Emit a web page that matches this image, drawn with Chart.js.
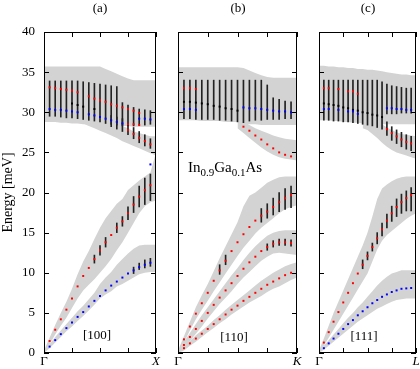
<!DOCTYPE html>
<html>
<head>
<meta charset="utf-8">
<script src="https://cdn.jsdelivr.net/npm/chart.js@4.4.1/dist/chart.umd.min.js"></script>
<style>
body { margin: 0; width: 420px; height: 369px; background: #fff; position: relative; overflow: hidden; font-family: "Liberation Serif", serif; color: #000; }
canvas { position: absolute; top: 0; }
.lbl { position: absolute; font-size: 13px; line-height: 15px; text-align: center; white-space: nowrap; }
.lbl sub { font-size: 11px; line-height: 0; }
</style>
</head>
<body>
<canvas id="panelA" width="164" height="369" style="left:0px"></canvas>
<canvas id="panelB" width="135" height="369" style="left:170px"></canvas>
<canvas id="panelC" width="109" height="369" style="left:311px"></canvas>
<div class="lbl" style="left:80px;top:0px;width:40px">(a)</div>
<div class="lbl" style="left:218px;top:0px;width:40px">(b)</div>
<div class="lbl" style="left:348px;top:0px;width:40px">(c)</div>
<div class="lbl" style="left:77px;top:327px;width:40px">[100]</div>
<div class="lbl" style="left:214px;top:329px;width:40px">[110]</div>
<div class="lbl" style="left:344px;top:328px;width:40px">[111]</div>
<div class="lbl" style="left:188px;top:160px;font-size:15px;text-align:left">In<sub>0.9</sub>Ga<sub>0.1</sub>As</div>
<script>
var kGrid = [0, 0.05, 0.1, 0.15, 0.2, 0.25, 0.3, 0.35, 0.4, 0.45, 0.5, 0.55, 0.6, 0.65, 0.7, 0.75, 0.8, 0.85, 0.9, 0.95, 1];
var yTicks = [0, 5, 10, 15, 20, 25, 30, 35, 40];

// panel (a) [100]
var aOptHi = [35.7, 35.7, 35.7, 35.7, 35.7, 35.7, 35.7, 35.7, 35.7, 35.7, 35.7, 35.4, 35.1, 34.8, 34.5, 34.2, 34.0, 34.0, 34.0, 34.0, 34.0];
var aOptLo = [28.8, 28.8, 28.8, 28.7, 28.7, 28.6, 28.6, 28.5, 28.5, 28.4, 28.4, 28.4, 28.3, 28.3, 28.3, 28.3, 28.2, 28.2, 28.2, 28.2, 28.2];
var aDescHi = [null, null, null, null, null, null, null, 29.5, 29.4, 29.3, 29.1, 28.9, 28.7, 28.5, 28.3, 28.0, 27.6, 27.4, 27.2, 27.0, 27.0];
var aDescLo = [null, null, null, null, null, null, null, 28.6, 28.3, 28.0, 27.7, 27.4, 27.1, 26.8, 26.4, 26.1, 25.8, 25.5, 25.2, 24.9, 24.6];
var aLAHi = [0.3, 1.9, 3.5, 5.0, 6.4, 8.0, 9.8, 11.4, 12.7, 14.2, 15.6, 16.8, 17.7, 18.6, 19.2, 20.3, 20.9, 21.5, 22.0, 22.5, 25.0];
var aLALo = [0, 1.1, 2.3, 3.4, 4.4, 5.6, 6.8, 7.8, 8.5, 9.2, 10.0, 10.8, 11.7, 12.8, 13.8, 15.0, 16.2, 17.4, 18.3, 18.8, 19.0];
var aTAHi = [0.2, 1.1, 2.0, 2.8, 3.6, 4.4, 5.2, 5.9, 6.7, 7.5, 8.6, 9.4, 10.1, 11.0, 11.7, 12.4, 13.0, 13.4, 13.5, 13.5, 13.5];
var aTALo = [0, 0.6, 1.3, 2.0, 2.7, 3.3, 4.0, 4.6, 5.3, 6.0, 6.8, 7.3, 7.7, 8.3, 8.6, 9.0, 9.4, 9.8, 10.0, 10.1, 10.1];
var aBarOptHi = [33.9, 33.9, 33.9, 33.9, 33.9, 33.9, 33.9, 33.8, 33.7, 33.6, 33.5, 33.4, 33.3, 33.2, 31.2, 30.9, 30.6, 30.4, 30.3, 30.2, 30.2];
var aBarOptLo = [29.5, 29.5, 29.5, 29.4, 29.3, 29.3, 29.2, 29.1, 29.0, 28.9, 28.8, 28.6, 28.5, 28.4, 28.3, 28.3, 28.3, 28.4, 28.4, 28.5, 28.5];
var aBarDescHi = [null, null, null, null, null, null, null, null, null, null, null, null, 29.6, 29.4, 29.2, 28.6, 28.1, 27.6, 27.2, 26.7, 26.3];
var aBarDescLo = [null, null, null, null, null, null, null, null, null, null, null, null, 28.2, 27.9, 27.6, 27.2, 26.7, 26.2, 25.8, 25.5, 25.2];
var aBarLAHi = [null, null, null, null, null, null, null, null, null, 12.2, 13.4, 14.4, null, 16.2, 17.0, 18.2, 19.5, 20.8, 21.8, 22.3, 25.0];
var aBarLALo = [null, null, null, null, null, null, null, null, null, 11.2, 12.2, 13.2, null, 15.0, 15.8, 16.6, 17.5, 18.2, 18.5, 19.0, 20.3];
var aBarTAHi = [null, null, null, null, null, null, null, null, null, null, null, null, null, null, null, null, 10.7, 11.2, 11.6, 11.8, 11.9];
var aBarTALo = [null, null, null, null, null, null, null, null, null, null, null, null, null, null, null, null, 9.9, 10.4, 10.6, 10.8, 10.8];
var aTA = [0, 0.8, 1.6, 2.35, 3.1, 3.8, 4.5, 5.1, 5.8, 6.5, 7.1, 7.8, 8.4, 8.9, 9.4, 9.9, 10.3, 10.7, 11.0, 11.25, 11.35];
var aLA = [0, 1.5, 2.9, 4.2, 5.4, 6.8, 8.3, 9.6, 10.6, 11.7, 12.8, 13.8, 14.7, 15.6, 16.4, 17.4, 18.5, 19.5, 20.3, 20.9, 21.2];
var aLO = [33.1, 33.1, 33.0, 32.9, 32.8, 32.7, 32.5, null, 32.0, 31.7, 31.5, 31.3, 31.0, 30.8, 30.6, 30.4, 30.2, 29.9, null, null, null];
var aTO = [30.4, 30.4, 30.3, 30.3, 30.2, 30.1, 30.0, null, 29.75, 29.6, 29.4, 29.2, 29.0, 28.8, 28.6, null, null, null, null, null, null];
var aTOdown = [null, null, null, null, null, null, null, null, null, null, null, null, null, null, null, 27.8, 27.3, 26.8, 26.4, 26.0, 25.7];
var aTOflat = [null, null, null, null, null, null, null, null, null, null, null, null, null, null, null, null, null, 29.2, 29.2, 29.1, 29.1];
var aLOlow = [null, null, null, null, null, null, null, null, null, null, null, null, null, null, null, 28.5, 28.5, 28.4, null, null, 28.4];
var aMid = [null, null, null, null, null, 31.1, 30.9, 30.7, null, 30.4, null, null, null, null, null, null, null, null, null, null, null];
var aXpt = [null, null, null, null, null, null, null, null, null, null, null, null, null, null, null, null, null, null, null, 23.5, 23.5];

// panel (b) [110]
var bOptHi = [35.6, 35.6, 35.6, 35.6, 35.6, 35.6, 35.6, 35.6, 35.6, 35.6, 35.6, 35.5, 35.2, 34.9, 34.6, 34.4, 34.3, 34.3, 34.3, 34.3, 34.3];
var bOptLo = [29.0, 29.0, 29.0, 29.0, 28.9, 28.9, 28.9, 28.9, 28.8, 28.8, 28.8, 28.6, 28.5, 28.5, 28.4, 28.4, 28.4, 28.4, 28.4, 28.4, 28.4];
var bDescHi = [null, null, null, null, null, null, null, null, null, null, 29.0, 28.9, 28.4, 28.0, 27.7, 27.4, 27.1, 26.9, 26.7, 26.6, 26.5];
var bDescLo = [null, null, null, null, null, null, null, null, null, null, 28.0, 27.4, 26.8, 26.2, 25.6, 25.1, 24.7, 24.4, 24.2, 24.1, 24.0];
var bLAHi = [0.3, 2.1, 3.9, 5.7, 7.2, 8.6, 10.2, 11.8, 13.3, 14.8, 16.3, 18.3, 19.6, 20.0, 20.6, 21.2, 21.6, 21.9, 22.0, 22.0, 22.0];
var bLALo = [0, 1.3, 2.8, 4.2, 5.4, 6.5, 7.7, 8.8, 9.9, 11.0, 12.1, 13.1, 14.0, 14.9, 15.6, 16.2, 16.8, 17.4, 17.9, 18.2, 18.4];
var bTA2Hi = [0.2, 1.4, 2.5, 3.6, 4.7, 5.7, 6.7, 7.7, 8.7, 9.7, 10.6, 11.6, 12.5, 13.3, 14.0, 14.6, 15.0, 15.2, 15.3, 15.3, 15.3];
var bTA2Lo = [0, 0.6, 1.5, 2.4, 3.3, 4.3, 5.2, 6.1, 6.9, 7.7, 8.6, 9.4, 10.1, 10.8, 11.5, 12.0, 12.4, 12.5, 12.4, 12.3, 12.2];
var bTA1Hi = [0.15, 0.9, 1.5, 2.2, 2.8, 3.4, 4.1, 4.7, 5.4, 6.0, 6.6, 7.2, 7.8, 8.4, 9.0, 9.5, 10.0, 10.4, 10.8, 11.1, 11.3];
var bTA1Lo = [0, 0.3, 0.9, 1.4, 2.0, 2.6, 3.1, 3.7, 4.2, 4.8, 5.3, 5.8, 6.3, 6.7, 7.1, 7.6, 8.0, 8.3, 8.7, 9.1, 9.4];
var bBarOptHi = [34.0, 34.0, 34.0, 34.0, 34.0, 34.0, 34.0, 34.0, 34.0, 34.0, 34.0, 34.0, 34.0, 34.0, 34.0, 33.4, 31.8, 31.6, 31.4, 31.3, 31.2];
var bBarOptLo = [29.2, 29.2, 29.2, 29.1, 29.1, 29.1, 29.1, 29.0, 29.0, 28.9, 28.8, 28.7, 28.9, 29.0, 29.0, 29.1, 29.1, 29.1, 29.2, 29.2, 29.2];
var bBarLAHi = [null, null, null, null, null, null, null, 11.0, 12.2, null, null, null, null, null, 18.0, 18.6, 19.3, 20.0, 20.5, 20.8, 21.0];
var bBarLALo = [null, null, null, null, null, null, null, 9.8, 11.0, null, null, null, null, null, 16.3, 16.8, 17.2, 17.6, 17.9, 18.1, 18.2];
var bBarTA2Hi = [null, null, null, null, null, null, null, null, null, null, null, null, null, null, null, 13.6, 14.0, 14.2, 14.2, 14.1, 14.0];
var bBarTA2Lo = [null, null, null, null, null, null, null, null, null, null, null, null, null, null, null, 12.8, 13.2, 13.4, 13.4, 13.3, 13.2];
var bLA = [0, 1.7, 3.3, 4.9, 6.2, 7.5, 9.0, 10.3, 11.5, 12.7, 13.8, 14.8, 15.7, 16.5, 17.1, 17.6, 18.2, 18.8, 19.3, 19.7, 20.0];
var bTA2 = [0, 1.0, 2.0, 3.0, 4.0, 5.0, 6.0, 6.9, 7.8, 8.7, 9.6, 10.5, 11.3, 12.0, 12.7, 13.2, 13.6, 13.8, 13.8, 13.7, 13.6];
var bTA1 = [0, 0.6, 1.2, 1.8, 2.4, 3.0, 3.6, 4.2, 4.8, 5.4, 5.9, 6.5, 7.0, 7.5, 8.0, 8.5, 8.9, 9.3, 9.7, 10.0, 10.3];
var bLO = [33.0, 33.0, 33.0, 32.9, null, null, null, null, null, null, null, null, null, null, null, null, null, null, null, null, null];
var bTO = [30.4, 30.4, 30.4, 30.3, null, null, null, null, null, null, null, null, null, null, null, null, null, null, null, null, null];
var bMid = [null, 31.3, 31.3, 31.2, 31.1, 31.0, 30.8, 30.7, 30.5, 30.4, 30.2, null, null, null, null, null, null, null, null, null, null];
var bTOflat = [null, null, null, null, null, null, null, null, null, null, null, 30.6, 30.5, 30.5, 30.4, 30.3, 30.2, 30.1, 30.1, 30.0, 29.9];
var bTOdown = [null, null, null, null, null, null, null, null, null, null, null, 28.2, 27.7, 27.1, 26.6, 26.0, 25.5, 25.0, 24.7, 24.5, 24.4];

// panel (c) [111]
var cOptHi = [35.8, 35.8, 35.7, 35.7, 35.6, 35.6, 35.5, 35.5, 35.4, 35.4, 35.3, 35.3, 35.2, 35.1, 35.0, 34.9, 34.8, 34.7, 34.7, 34.6, 34.6];
var cOptLo = [29.0, 29.0, 29.0, 28.9, 28.9, 28.8, 28.8, 28.7, 28.7, 28.6, 28.5, 28.5, 28.5, 28.5, 28.5, 28.5, 28.5, 28.5, 28.5, 28.5, 28.5];
var cDescHi = [null, null, null, null, null, null, null, null, null, 28.8, 28.7, 28.6, 28.6, 28.5, 28.1, 27.8, 27.5, 27.3, 27.2, 27.1, 27.0];
var cDescLo = [null, null, null, null, null, null, null, null, null, 28.0, 27.8, 27.3, 26.8, 26.2, 25.7, 25.3, 25.0, 24.8, 24.6, 24.4, 24.2];
var cLAHi = [0.3, 1.8, 3.4, 5.0, 6.4, 7.8, 9.2, 10.6, 12.0, 13.4, 15.0, 17.0, 19.2, 20.5, 21.0, 21.4, 21.7, 21.9, 22.0, 22.0, 22.0];
var cLALo = [0, 0.9, 1.9, 2.9, 3.9, 4.9, 5.9, 6.9, 7.9, 8.9, 9.9, 11.4, 12.9, 14.0, 14.7, 15.2, 15.7, 16.2, 16.7, 17.1, 17.4];
var cTAHi = [0.2, 0.9, 1.6, 2.3, 3.0, 3.7, 4.4, 5.0, 5.7, 6.3, 7.0, 7.7, 8.4, 9.0, 9.5, 9.9, 10.1, 10.3, 10.3, 10.3, 10.3];
var cTALo = [0, 0.4, 0.9, 1.4, 1.9, 2.4, 2.9, 3.4, 3.9, 4.3, 4.7, 5.1, 5.5, 5.8, 6.1, 6.4, 6.6, 6.7, 6.8, 6.8, 6.8];
var cBarOptHi = [34.0, 34.0, 34.0, 34.0, 34.0, 34.0, 34.0, 34.0, 34.0, 34.0, 34.0, 34.0, 34.0, 33.8, 33.5, 33.3, 33.2, 33.1, 33.0, 33.0, 33.0];
var cBarOptLo = [29.0, 29.0, 29.0, 28.9, 28.9, 28.8, 28.8, 28.7, 28.6, 28.5, 28.4, 28.3, 28.1, 27.9, 29.8, 29.8, 29.8, 29.9, 29.9, 29.9, 29.9];
var cBarDescHi = [null, null, null, null, null, null, null, null, null, null, null, null, null, null, 28.8, 28.2, 27.8, 27.5, 27.2, 27.0, 26.8];
var cBarDescLo = [null, null, null, null, null, null, null, null, null, null, null, null, null, null, 27.1, 26.5, 26.1, 25.7, 25.4, 25.2, 25.0];
var cBarLAHi = [null, null, null, null, null, null, null, null, null, 11.6, 12.6, 13.7, 15.0, 16.2, 17.3, 18.3, 19.2, 19.8, 20.2, 20.6, 20.8];
var cBarLALo = [null, null, null, null, null, null, null, null, null, 10.5, 11.6, 12.7, 13.6, 14.6, 15.6, 16.4, 17.0, 17.4, 17.7, 17.7, 17.6];
var cLA = [0, 1.3, 2.6, 3.9, 5.1, 6.3, 7.5, 8.7, 9.9, 11.0, 12.1, 13.2, 14.3, 15.4, 16.5, 17.4, 18.2, 18.8, 19.3, 19.7, 19.9];
var cTA = [0, 0.6, 1.2, 1.8, 2.4, 3.0, 3.6, 4.1, 4.7, 5.2, 5.7, 6.2, 6.6, 7.0, 7.3, 7.6, 7.8, 8.0, 8.05, 8.1, 8.1];
var cLO = [33.0, 33.0, 33.0, null, 32.9, null, 32.6, 32.6, 32.3, null, null, null, null, null, null, null, null, null, null, null, null];
var cTO = [30.4, 30.4, 30.4, null, 30.3, null, 30.1, 30.1, 29.8, null, null, null, null, null, null, null, null, null, null, null, null];
var cMid = [31.2, 31.1, 31.0, 30.9, 30.8, 30.6, 30.5, 30.3, 30.2, 30.0, 29.9, 29.7, 29.6, 29.4, null, null, null, null, null, null, null];
var cTOflat = [null, null, null, null, null, null, null, null, null, null, null, null, null, null, 30.5, 30.5, 30.4, 30.4, 30.3, 30.3, 30.2];
var cTOdown = [null, null, null, null, null, null, null, null, null, null, null, null, null, null, 27.9, 27.4, 27.0, 26.6, 26.3, 26.1, 25.9];

var serif = '"Liberation Serif", "DejaVu Serif", serif';
var GRAY = '#d3d3d3';
var RED = '#ff0000';
var BLUE = '#0000ff';
var BLACK = '#000000';

function rangeData(lo, hi) {
    var out = [];
    for (var i = 0; i < kGrid.length; i++) {
        if (lo[i] === null || hi[i] === null) continue;
        out.push({x: kGrid[i], y: [lo[i], hi[i]]});
    }
    return out;
}

function pointData(vals) {
    var out = [];
    for (var i = 0; i < kGrid.length; i++) {
        if (vals[i] === null) continue;
        out.push({x: kGrid[i], y: vals[i]});
    }
    return out;
}

// gray band = two invisible lines, the upper one filled down to the lower one
function bandSets(lo, hi) {
    var edge = {type: 'line', showLine: true, borderColor: 'rgba(0,0,0,0)', borderWidth: 1,
                pointRadius: 0, tension: 0, order: 3};
    return [
        Object.assign({}, edge, {data: pointData(lo), fill: false}),
        Object.assign({}, edge, {data: pointData(hi), fill: '-1', backgroundColor: GRAY})
    ];
}

function barSet(lo, hi) {
    return {
        type: 'bar', data: rangeData(lo, hi), backgroundColor: '#222', borderWidth: 0,
        grouped: false, barThickness: 1, order: 2
    };
}

function pointSet(vals, color) {
    return {
        type: 'scatter', data: pointData(vals), showLine: false, pointStyle: 'rect',
        pointRadius: 1.4, pointBorderWidth: 0, backgroundColor: color, borderColor: color, order: 1
    };
}

var frameTicks = {
    id: 'frameTicks',
    afterDatasetsDraw: function (chart) {
        var ctx = chart.ctx, a = chart.chartArea, xs = chart.scales.x, ys = chart.scales.y;
        ctx.save();
        ctx.strokeStyle = '#000';
        ctx.lineWidth = 1;
        ctx.beginPath();
        ys.ticks.forEach(function (t) {
            var y = Math.round(ys.getPixelForValue(t.value)) + 0.5;
            ctx.moveTo(a.left, y); ctx.lineTo(a.left + 5, y);
            ctx.moveTo(a.right - 5, y); ctx.lineTo(a.right, y);
        });
        xs.ticks.forEach(function (t) {
            var x = Math.round(xs.getPixelForValue(t.value)) + 0.5;
            ctx.moveTo(x, a.bottom); ctx.lineTo(x, a.bottom - 5);
            ctx.moveTo(x, a.top); ctx.lineTo(x, a.top + 5);
        });
        ctx.stroke();
        ctx.strokeRect(a.left + 0.5, a.top + 0.5, a.right - a.left - 1, a.bottom - a.top - 1);
        ctx.restore();
    }
};

function makePanel(id, p) {
    var datasets = [];
    p.bands.forEach(function (b) { datasets = datasets.concat(bandSets(b[0], b[1])); });
    p.bars.forEach(function (b) { datasets.push(barSet(b[0], b[1])); });
    p.points.forEach(function (s) { datasets.push(pointSet(s[0], s[1])); });
    return new Chart(document.getElementById(id), {
        type: 'bar',
        data: {datasets: datasets},
        options: {
            responsive: false,
            animation: false,
            layout: {padding: {top: 32, left: p.padLeft, right: p.padRight, bottom: 0}},
            plugins: {legend: {display: false}, tooltip: {enabled: false}},
            scales: {
                x: {
                    type: 'linear', min: 0, max: 1, offset: false,
                    grid: {display: false, drawTicks: false}, border: {display: false},
                    ticks: {
                        stepSize: 0.25, padding: 1, maxRotation: 0, autoSkip: false, color: '#000',
                        font: function (c) {
                            return {family: serif, size: 13, style: (c.tick && c.tick.value === 1) ? 'italic' : 'normal'};
                        },
                        callback: function (v) { return v === 0 ? 'Γ' : (v === 1 ? p.endLabel : ''); }
                    },
                    afterFit: function (s) { s.height = 16; s.paddingLeft = 0; s.paddingRight = 0; }
                },
                y: {
                    min: 0, max: 40,
                    grid: {display: false, drawTicks: false}, border: {display: false},
                    afterBuildTicks: function (s) { s.ticks = yTicks.map(function (v) { return {value: v}; }); },
                    ticks: {display: p.showY, padding: 9, color: '#000', font: {family: serif, size: 13}},
                    title: {display: p.showY, text: 'Energy [meV]', padding: 0, color: '#000', font: {family: serif, size: 14}},
                    afterFit: function (s) { s.width = p.showY ? 44 : 0; s.paddingTop = 0; s.paddingBottom = 0; }
                }
            }
        },
        plugins: [frameTicks]
    });
}

makePanel('panelA', {
    padLeft: 0, padRight: 8, showY: true, endLabel: 'X',
    bands: [[aOptLo, aOptHi], [aDescLo, aDescHi], [aLALo, aLAHi], [aTALo, aTAHi]],
    bars: [[aBarOptLo, aBarOptHi], [aBarDescLo, aBarDescHi], [aBarLALo, aBarLAHi], [aBarTALo, aBarTAHi]],
    points: [[aTA, BLUE], [aLA, RED], [aLO, RED], [aTO, BLUE], [aTOdown, RED], [aTOflat, BLUE],
             [aLOlow, RED], [aMid, BLACK], [aXpt, BLUE]]
});

makePanel('panelB', {
    padLeft: 8, padRight: 8, showY: false, endLabel: 'K',
    bands: [[bOptLo, bOptHi], [bDescLo, bDescHi], [bLALo, bLAHi], [bTA2Lo, bTA2Hi], [bTA1Lo, bTA1Hi]],
    bars: [[bBarOptLo, bBarOptHi], [bBarLALo, bBarLAHi], [bBarTA2Lo, bBarTA2Hi]],
    points: [[bLA, RED], [bTA2, RED], [bTA1, RED], [bLO, RED], [bTO, BLUE], [bMid, BLACK],
             [bTOflat, BLUE], [bTOdown, RED]]
});

makePanel('panelC', {
    padLeft: 8, padRight: 3, showY: false, endLabel: 'L',
    bands: [[cOptLo, cOptHi], [cDescLo, cDescHi], [cLALo, cLAHi], [cTALo, cTAHi]],
    bars: [[cBarOptLo, cBarOptHi], [cBarDescLo, cBarDescHi], [cBarLALo, cBarLAHi]],
    points: [[cLA, RED], [cTA, BLUE], [cLO, RED], [cTO, BLUE], [cMid, BLACK], [cTOflat, BLUE], [cTOdown, RED]]
});
</script>
</body>
</html>
